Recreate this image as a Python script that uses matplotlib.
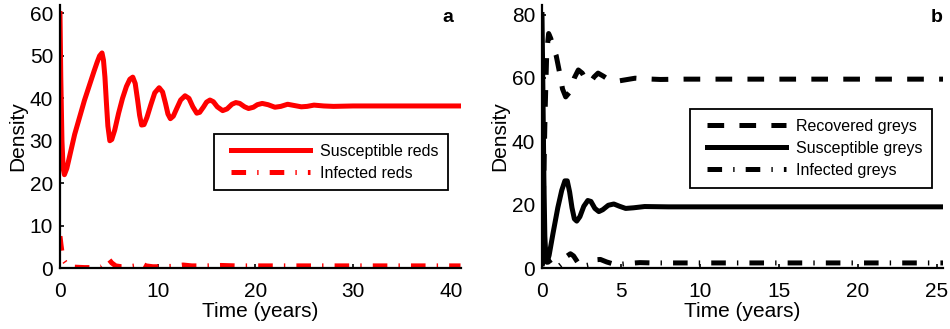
import matplotlib
matplotlib.use("Agg")
import matplotlib.pyplot as plt
from matplotlib.legend_handler import HandlerLine2D

plt.rcParams["font.family"] = ["Liberation Sans", "DejaVu Sans"]
plt.rcParams["lines.scale_dashes"] = False

# Panel a: red squirrels
t_sr = [0, 0.08, 0.2, 0.32, 0.45, 0.7, 1.0, 1.5, 2.0, 2.5, 3.0, 3.5, 3.8, 4.05, 4.3,
        4.45, 4.6, 4.75, 4.9, 5.1, 5.3, 5.6, 6.0, 6.4, 6.8, 7.15, 7.45, 7.7, 7.95, 8.15,
        8.35, 8.6, 8.9, 9.3, 9.7, 10.15, 10.5, 10.8, 11.05, 11.3, 11.6, 11.95, 12.35,
        12.8, 13.2, 13.6, 14.0, 14.3, 14.7, 15.0, 15.35, 15.7, 16.1, 16.65, 17.1, 17.6,
        18.0, 18.4, 18.9, 19.3, 19.8, 20.2, 20.7, 21.3, 22.0, 22.6, 23.3, 24.0, 24.7,
        25.3, 26.0, 27.0, 28.0, 30.0, 35.0, 41.0]
s_red = [60, 45, 30, 23.5, 22, 23.5, 26.5, 31.5, 35.5, 39.5, 43, 46.5, 48.5, 50, 50.7,
         49, 45, 39, 33.5, 30, 30.3, 32.5, 36.5, 40, 42.8, 44.5, 45, 43.5, 39.5, 36,
         33.7, 33.8, 35.5, 38.5, 41.3, 42.5, 41.5, 38.8, 36.3, 35.2, 35.8, 37.6, 39.6,
         40.6, 40, 38, 36.5, 36.7, 38, 39.1, 39.6, 39.2, 38, 37.1, 37.5, 38.6,
         39.0, 38.8, 38, 37.6, 37.9, 38.5, 38.8, 38.5, 37.9, 38.1, 38.6, 38.3, 38.0,
         38.1, 38.4, 38.2, 38.1, 38.2, 38.2, 38.2]
t_ir = [0, 0.1, 0.2, 0.3, 0.45, 0.7, 1.0, 1.5, 2.5, 3.5, 4.2, 4.6, 4.85, 5.05, 5.3, 5.7,
        6.3, 7.0, 7.7, 8.1, 8.4, 8.8, 9.5, 10.5, 11.5, 12.6, 13.5, 15.0, 16.5, 18.0,
        20.0, 22.0, 25.0, 30.0, 35.0, 41.0]
i_red = [7.5, 5.5, 3.8, 2.5, 1.6, 0.8, 0.4, 0.2, 0.1, 0.1, 0.3, 1.0, 2.0, 1.9, 1.2, 0.5,
         0.3, 0.3, 0.5, 1.1, 1.0, 0.5, 0.3, 0.3, 0.4, 0.7, 0.5, 0.5, 0.6, 0.5,
         0.5, 0.5, 0.5, 0.5, 0.5, 0.5]

# Panel b: grey squirrels
t_rg = [0, 0.1, 0.2, 0.3, 0.42, 0.55, 0.75, 0.9, 1.1, 1.3, 1.5, 1.75, 2.05, 2.3, 2.55,
        2.8, 3.05, 3.3, 3.55, 3.9, 4.3, 4.7, 5.3, 5.9, 6.5, 7.5, 9.0, 25.4]
r_grey = [0.5, 25, 50, 68, 74, 72.5, 69, 67, 62, 56.5, 54, 55.5, 60, 62.5, 61.5,
          59.2, 58.5, 60.3, 61.5, 60.5, 59.2, 58.9, 59.4, 59.9, 59.7, 59.5, 59.6, 59.6]
t_sg = [0, 0.06, 0.12, 0.18, 0.25, 0.32, 0.45, 0.7, 1.0, 1.25, 1.45, 1.6, 1.75, 1.9,
        2.05, 2.2, 2.4, 2.65, 2.9, 3.1, 3.35, 3.6, 3.85, 4.2, 4.55, 4.9, 5.3, 5.8,
        6.5, 8.0, 25.4]
s_grey = [80, 55, 28, 10, 3, 1.8, 4, 11, 19, 24.5, 27.5, 27.5, 24, 19,
          15.5, 14.8, 16.2, 19.5, 21.3, 21.0, 18.8, 17.8, 18.4, 19.8, 20.2, 19.5, 18.8,
          19.0, 19.4, 19.3, 19.3]
t_ig = [0, 0.2, 0.4, 0.7, 1.0, 1.3, 1.6, 1.8, 2.0, 2.3, 2.6, 3.0, 3.4, 3.7, 4.1, 4.5,
        5.0, 5.6, 6.2, 7.0, 25.4]
i_grey = [1.0, 3.0, 2.5, 0.5, 0.3, 1.5, 3.8, 4.5, 3.8, 1.5, 0.6, 1.0, 2.6, 2.7, 1.9,
          1.3, 1.2, 1.5, 1.7, 1.6, 1.6]

dash = (0, (12, 11))
dashdot = (0, (10.5, 8, 1, 8))
lw = 3.6

fig = plt.figure(figsize=(9.5, 3.29), dpi=100)
ax1 = fig.add_axes([60 / 950, 0.1854, 401 / 950, 0.7994])
ax2 = fig.add_axes([542 / 950, 0.1854, 401 / 950, 0.7994])

ax1.plot(t_sr, s_red, color="red", lw=lw, ls="-", label="Susceptible reds")
ax1.plot(t_ir, i_red, color="red", lw=lw, ls=dashdot, label="Infected reds")
ax1.set_xlim(0, 41.05)
ax1.set_ylim(0, 62)
ax1.set_xticks([0, 10, 20, 30, 40])
ax1.set_yticks([0, 10, 20, 30, 40, 50, 60])

ax2.plot(t_rg, r_grey, color="black", lw=lw, ls=dash, label="Recovered greys")
ax2.plot(t_sg, s_grey, color="black", lw=lw, ls="-", label="Susceptible greys")
ax2.plot(t_ig, i_grey, color="black", lw=lw, ls=dashdot, label="Infected greys")
ax2.set_xlim(0, 25.4)
ax2.set_ylim(0, 83)
ax2.set_xticks([0, 5, 10, 15, 20, 25])
ax2.set_yticks([0, 20, 40, 60, 80])

for ax in (ax1, ax2):
    ax.spines["top"].set_visible(False)
    ax.spines["right"].set_visible(False)
    for s in ("left", "bottom"):
        ax.spines[s].set_linewidth(1.6)
    ax.tick_params(direction="in", length=3, width=1.2, labelsize=15)
    ax.tick_params(axis="x", pad=10)
    ax.tick_params(axis="y", pad=5)
    ax.set_xlabel("Time (years)", fontsize=15, labelpad=1)
    ax.set_ylabel("Density", fontsize=15)
    ax.yaxis.set_label_coords(-0.081, 0.5)

# legend: line inset a bit inside its handle box
leg_kw = dict(fontsize=11.5, handlelength=5.85, handletextpad=0.16, labelspacing=0.45,
              borderpad=0.6, borderaxespad=0, fancybox=False, framealpha=1,
              edgecolor="black", loc="upper right")
h1, lab1 = ax1.get_legend_handles_labels()
h2, lab2 = ax2.get_legend_handles_labels()
hm1 = {h: HandlerLine2D(numpoints=2, marker_pad=0.46) for h in h1}
hm2 = {h: HandlerLine2D(numpoints=2, marker_pad=0.46) for h in h2}
l1 = ax1.legend(h1, lab1, bbox_to_anchor=(388 / 401, (268 - 134) / 263),
                handler_map=hm1, **leg_kw)
l2 = ax2.legend(h2, lab2, bbox_to_anchor=(390 / 401, (268 - 109) / 263),
                handler_map=hm2, **leg_kw)
for l in (l1, l2):
    l.get_frame().set_linewidth(1.3)

fig.text(448 / 950, 1 - 22 / 329, "a", fontsize=14, fontweight="bold", ha="center", va="baseline")
fig.text(937 / 950, 1 - 22 / 329, "b", fontsize=14, fontweight="bold", ha="center", va="baseline")

fig.savefig("out.png", dpi=100)
